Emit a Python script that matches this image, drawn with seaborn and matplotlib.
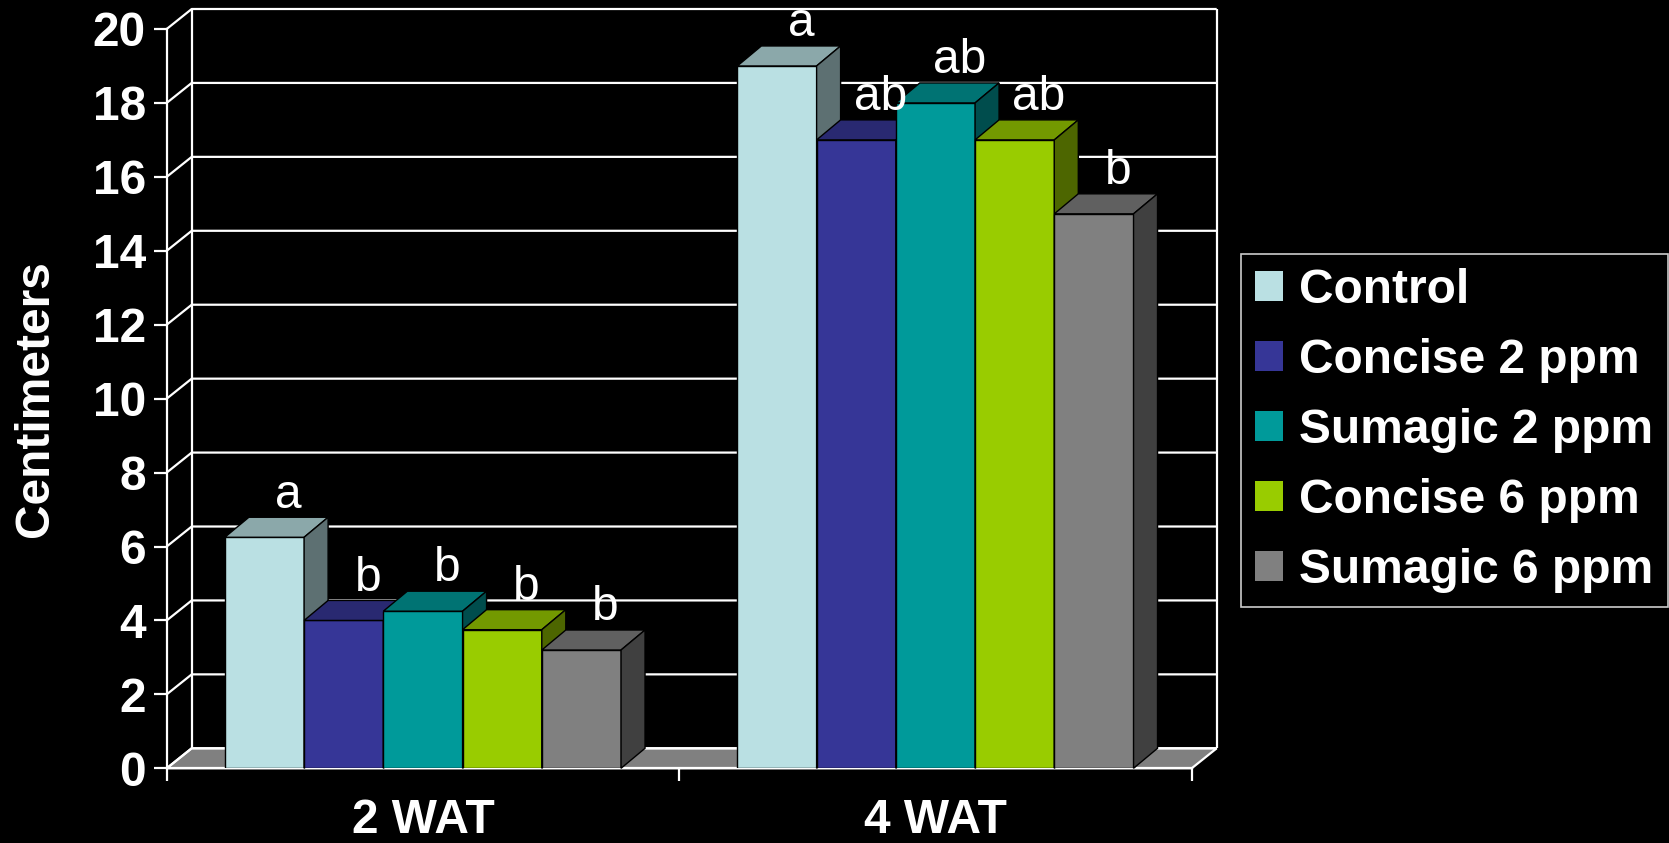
import numpy as np
import pandas as pd
import matplotlib.pyplot as plt
import matplotlib.patches as mpatches
import seaborn as sns

# ---------------------------------------------------------------------------
# Data
# ---------------------------------------------------------------------------
weeks = ["2 WAT", "4 WAT"]
treatments = ["Control", "Concise 2 ppm", "Sumagic 2 ppm", "Concise 6 ppm", "Sumagic 6 ppm"]
height_2wat = [6.25, 4.0, 4.25, 3.75, 3.2]
height_4wat = [19.0, 17.0, 18.0, 17.0, 15.0]
letters_2wat = ["a", "b", "b", "b", "b"]
letters_4wat = ["a", "ab", "ab", "ab", "b"]
y_ticks = list(range(0, 21, 2))

colors = ["#BAE0E3", "#363697", "#009A9A", "#99CC00", "#808080"]

df = pd.DataFrame({
    "week": [w for w in weeks for _ in treatments],
    "treatment": treatments * len(weeks),
    "height": height_2wat + height_4wat,
})
letters = letters_2wat + letters_4wat

FS = 34.5

# ---------------------------------------------------------------------------
# Figure
# ---------------------------------------------------------------------------
sns.set_theme(style="ticks")
plt.rcParams["font.family"] = ["Liberation Sans", "DejaVu Sans"]

W, H = 1669, 843
fig = plt.figure(figsize=(W / 100, H / 100), dpi=100, facecolor="black")
ax = fig.add_axes([166.7 / W, (H - 768.3) / H, 1025 / W, 739.3 / H])
ax.set_facecolor("none")

sns.barplot(data=df, x="week", y="height", hue="treatment", palette=colors,
            width=0.773, gap=0, legend=False, edgecolor="black", linewidth=1.0,
            saturation=1, ax=ax)
bars = sorted(list(ax.patches), key=lambda p: p.get_x())

ax.set_xlim(-0.5, 1.5)
ax.set_ylim(0, 20)


def px_offset(dx_px, dy_px):
    inv = ax.transData.inverted()
    p0 = ax.transData.transform((0, 0))
    return inv.transform(p0 + np.array([dx_px, dy_px])) - inv.transform(p0)


wdx, wdy = px_offset(25, 20)   # wall / floor depth
bdx, bdy = px_offset(24, 20)   # bar depth
xmin, xmax = -0.5, 1.5
white = dict(color="white", lw=1.6, clip_on=False, zorder=1.5, solid_capstyle="butt")

# back wall and floor
floor = mpatches.Polygon([(xmin, 0), (xmax, 0), (xmax + wdx, wdy), (xmin + wdx, wdy)],
                         closed=True, facecolor="#808080", edgecolor="white", lw=1.6,
                         clip_on=False, zorder=1)
ax.add_patch(floor)
for t in y_ticks:
    ax.plot([xmin, xmin + wdx, xmax + wdx], [t, t + wdy, t + wdy], **white)
ax.plot([xmin + wdx, xmin + wdx], [wdy, 20 + wdy], **white)
ax.plot([xmax + wdx, xmax + wdx], [wdy, 20 + wdy], **white)

# 3D tops and sides, drawn left to right so neighbours overlap correctly
for k, bar in enumerate(bars):
    x0, w, h = bar.get_x(), bar.get_width(), bar.get_height()
    face = np.array(bar.get_facecolor()[:3])
    z = 3 + 0.01 * k
    bar.set_zorder(z)
    top = mpatches.Polygon([(x0, h), (x0 + w, h), (x0 + w + bdx, h + bdy), (x0 + bdx, h + bdy)],
                           closed=True, facecolor=face * 0.75, edgecolor="black", lw=1.0,
                           zorder=z + 0.002, clip_on=False)
    side = mpatches.Polygon([(x0 + w, 0), (x0 + w + bdx, bdy), (x0 + w + bdx, h + bdy), (x0 + w, h)],
                            closed=True, facecolor=face * 0.5, edgecolor="black", lw=1.0,
                            zorder=z + 0.004, clip_on=False)
    ax.add_patch(top)
    ax.add_patch(side)
    ax.annotate(letters[k], (x0 + w / 2 + bdx, h + bdy), xytext=(0, 7),
                textcoords="offset points", ha="center", va="baseline",
                color="white", fontsize=FS, zorder=10, annotation_clip=False)

# axes styling
for s in ["top", "right"]:
    ax.spines[s].set_visible(False)
for s in ["left", "bottom"]:
    ax.spines[s].set_color("white")
    ax.spines[s].set_linewidth(1.6)
    ax.spines[s].set_zorder(2)

ax.set_yticks(y_ticks)
ax.tick_params(axis="y", colors="white", length=9.5, width=1.6, pad=5.5,
               labelsize=FS)
ax.set_xticks([-0.5, 0.5, 1.5])
ax.set_xticklabels([])
ax.set_xticks([0, 1], minor=True)
ax.set_xticklabels(weeks, minor=True)
ax.tick_params(axis="x", which="major", colors="white", length=9.5, width=1.6)
ax.tick_params(axis="x", which="minor", length=0, pad=21.5, labelsize=FS,
               labelcolor="white")
for lab in ax.get_yticklabels() + ax.get_xticklabels(minor=True):
    lab.set_fontweight("bold")

ax.set_xlabel("")
ax.set_ylabel("Centimeters", color="white", fontsize=FS, fontweight="bold")
ax.yaxis.set_label_coords(-0.128, 0.5)
ax.yaxis.label.set_va("center")

handles = [mpatches.Patch(facecolor=c, edgecolor="none") for c in colors]
leg = fig.legend(handles, treatments, loc="upper left",
                 bbox_to_anchor=(1241 / W, 1 - 254 / H), borderaxespad=0,
                 frameon=True, fancybox=False, facecolor="black", edgecolor="white",
                 prop={"weight": "bold", "size": FS}, labelcolor="white",
                 handlelength=0.585, handleheight=0.585, handletextpad=0.33,
                 labelspacing=0.52, borderpad=0.3)
leg.get_frame().set_linewidth(1.2)

fig.savefig("out.png", dpi=100, facecolor="black")
